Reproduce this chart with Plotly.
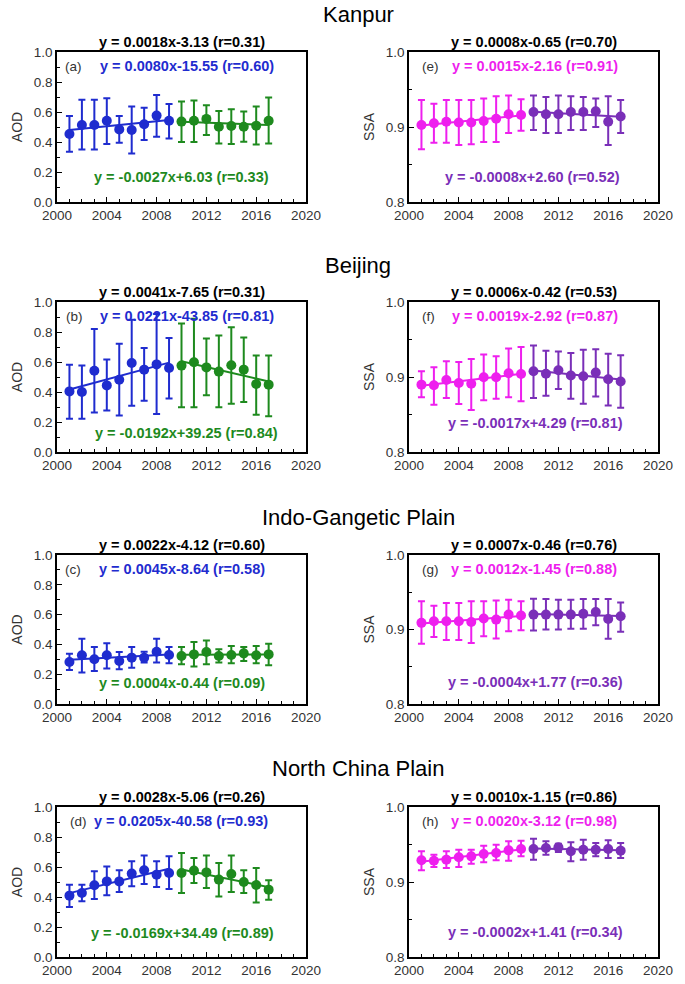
import numpy as np
import plotly.graph_objects as go

W, H = 685, 984

years1 = list(range(2001, 2010))
years2 = list(range(2010, 2018))

region_titles = ["Kanpur", "Beijing", "Indo-Gangetic Plain", "North China Plain"]
panel_labels_aod = ["(a)", "(b)", "(c)", "(d)"]
panel_labels_ssa = ["(e)", "(f)", "(g)", "(h)"]

# ---------------- AOD (mean, upper, lower) ----------------
kan_aod1 = [0.453, 0.513, 0.513, 0.542, 0.484, 0.480, 0.518, 0.576, 0.542]
kan_aod1_up = [0.574, 0.681, 0.681, 0.692, 0.574, 0.636, 0.629, 0.714, 0.654]
kan_aod1_lo = [0.335, 0.350, 0.350, 0.386, 0.395, 0.324, 0.413, 0.435, 0.424]
kan_aod2 = [0.536, 0.542, 0.554, 0.502, 0.507, 0.502, 0.509, 0.542]
kan_aod2_up = [0.670, 0.676, 0.645, 0.607, 0.618, 0.603, 0.636, 0.696]
kan_aod2_lo = [0.400, 0.400, 0.446, 0.390, 0.386, 0.402, 0.384, 0.390]

bei_aod1 = [0.404, 0.400, 0.542, 0.444, 0.482, 0.593, 0.549, 0.584, 0.560]
bei_aod1_up = [0.582, 0.576, 0.820, 0.616, 0.722, 0.882, 0.693, 0.920, 0.760]
bei_aod1_lo = [0.222, 0.222, 0.264, 0.276, 0.244, 0.309, 0.342, 0.253, 0.356]
bei_aod2 = [0.576, 0.598, 0.564, 0.536, 0.578, 0.549, 0.453, 0.449]
bei_aod2_up = [0.856, 0.889, 0.756, 0.776, 0.831, 0.764, 0.644, 0.644]
bei_aod2_lo = [0.298, 0.298, 0.378, 0.298, 0.322, 0.333, 0.249, 0.238]

igp_aod1 = [0.282, 0.327, 0.300, 0.327, 0.289, 0.311, 0.311, 0.351, 0.329]
igp_aod1_up = [0.338, 0.438, 0.382, 0.407, 0.349, 0.382, 0.351, 0.438, 0.382]
igp_aod1_lo = [0.229, 0.211, 0.222, 0.238, 0.233, 0.244, 0.278, 0.278, 0.273]
igp_aod2 = [0.322, 0.333, 0.349, 0.322, 0.329, 0.340, 0.327, 0.333]
igp_aod2_up = [0.382, 0.416, 0.427, 0.367, 0.389, 0.382, 0.389, 0.404]
igp_aod2_lo = [0.267, 0.251, 0.267, 0.278, 0.273, 0.289, 0.273, 0.260]

ncp_aod1 = [0.409, 0.427, 0.478, 0.504, 0.504, 0.556, 0.578, 0.549, 0.560]
ncp_aod1_up = [0.482, 0.482, 0.571, 0.604, 0.578, 0.638, 0.676, 0.638, 0.671]
ncp_aod1_lo = [0.333, 0.371, 0.387, 0.411, 0.433, 0.471, 0.487, 0.467, 0.453]
ncp_aod2 = [0.560, 0.576, 0.564, 0.516, 0.553, 0.500, 0.480, 0.449]
ncp_aod2_up = [0.693, 0.660, 0.676, 0.627, 0.676, 0.578, 0.593, 0.511]
ncp_aod2_lo = [0.427, 0.493, 0.460, 0.404, 0.433, 0.427, 0.364, 0.382]

# ---------------- SSA (mean, upper, lower) ----------------
kan_ssa1 = [0.9027, 0.905, 0.907, 0.906, 0.906, 0.908, 0.911, 0.917, 0.916]
kan_ssa1_up = [0.936, 0.931, 0.936, 0.936, 0.936, 0.938, 0.941, 0.942, 0.937]
kan_ssa1_lo = [0.8705, 0.879, 0.879, 0.876, 0.877, 0.880, 0.880, 0.892, 0.895]
kan_ssa2 = [0.920, 0.917, 0.917, 0.920, 0.920, 0.921, 0.907, 0.914]
kan_ssa2_up = [0.942, 0.940, 0.942, 0.941, 0.940, 0.938, 0.941, 0.936]
kan_ssa2_lo = [0.896, 0.892, 0.892, 0.896, 0.896, 0.900, 0.876, 0.892]

bei_ssa1 = [0.8898, 0.889, 0.896, 0.892, 0.891, 0.8996, 0.8996, 0.905, 0.904]
bei_ssa1_up = [0.9076, 0.913, 0.921, 0.920, 0.924, 0.930, 0.9276, 0.938, 0.940]
bei_ssa1_lo = [0.873, 0.863, 0.872, 0.864, 0.856, 0.869, 0.871, 0.873, 0.8676]
bei_ssa2 = [0.9076, 0.9044, 0.909, 0.902, 0.9009, 0.906, 0.897, 0.894]
bei_ssa2_up = [0.942, 0.935, 0.934, 0.932, 0.9364, 0.937, 0.931, 0.929]
bei_ssa2_lo = [0.872, 0.875, 0.884, 0.871, 0.8644, 0.874, 0.862, 0.859]

igp_ssa1 = [0.9089, 0.911, 0.911, 0.911, 0.910, 0.9147, 0.9133, 0.920, 0.9187]
igp_ssa1_up = [0.9378, 0.932, 0.9356, 0.9356, 0.9378, 0.9378, 0.939, 0.940, 0.9378]
igp_ssa1_lo = [0.881, 0.890, 0.886, 0.886, 0.882, 0.891, 0.888, 0.8978, 0.899]
igp_ssa2 = [0.920, 0.920, 0.920, 0.920, 0.921, 0.9236, 0.914, 0.9178]
igp_ssa2_up = [0.9413, 0.941, 0.940, 0.940, 0.941, 0.941, 0.941, 0.9364]
igp_ssa2_lo = [0.8987, 0.900, 0.900, 0.901, 0.901, 0.9058, 0.8876, 0.8969]

ncp_ssa1 = [0.9289, 0.9284, 0.9298, 0.9329, 0.9342, 0.9373, 0.9387, 0.9422, 0.944]
ncp_ssa1_up = [0.9409, 0.9364, 0.9409, 0.9431, 0.9431, 0.9484, 0.9498, 0.9542, 0.9551]
ncp_ssa1_lo = [0.9156, 0.920, 0.9187, 0.920, 0.9244, 0.9262, 0.9289, 0.9284, 0.9342]
ncp_ssa2 = [0.944, 0.9453, 0.9462, 0.9409, 0.9431, 0.9431, 0.944, 0.9418]
ncp_ssa2_up = [0.9578, 0.9542, 0.9511, 0.9529, 0.9564, 0.952, 0.9556, 0.952]
ncp_ssa2_lo = [0.9298, 0.9364, 0.940, 0.9276, 0.9298, 0.9342, 0.932, 0.932]

# ---------------- equation texts ----------------
aod_eq_all = ["y = 0.0018x-3.13 (r=0.31)", "y = 0.0041x-7.65 (r=0.31)",
              "y = 0.0022x-4.12 (r=0.60)", "y = 0.0028x-5.06 (r=0.26)"]
aod_eq_p1 = ["y = 0.0080x-15.55 (r=0.60)", "y = 0.0221x-43.85 (r=0.81)",
             "y = 0.0045x-8.64 (r=0.58)", "y = 0.0205x-40.58 (r=0.93)"]
aod_eq_p2 = ["y = -0.0027x+6.03 (r=0.33)", "y = -0.0192x+39.25 (r=0.84)",
             "y = 0.0004x-0.44 (r=0.09)", "y = -0.0169x+34.49 (r=0.89)"]
ssa_eq_all = ["y = 0.0008x-0.65 (r=0.70)", "y = 0.0006x-0.42 (r=0.53)",
              "y = 0.0007x-0.46 (r=0.76)", "y = 0.0010x-1.15 (r=0.86)"]
ssa_eq_p1 = ["y = 0.0015x-2.16 (r=0.91)", "y = 0.0019x-2.92 (r=0.87)",
             "y = 0.0012x-1.45 (r=0.88)", "y = 0.0020x-3.12 (r=0.98)"]
ssa_eq_p2 = ["y = -0.0008x+2.60 (r=0.52)", "y = -0.0017x+4.29 (r=0.81)",
             "y = -0.0004x+1.77 (r=0.36)", "y = -0.0002x+1.41 (r=0.34)"]

aod_data = [
    (kan_aod1, kan_aod1_up, kan_aod1_lo, kan_aod2, kan_aod2_up, kan_aod2_lo),
    (bei_aod1, bei_aod1_up, bei_aod1_lo, bei_aod2, bei_aod2_up, bei_aod2_lo),
    (igp_aod1, igp_aod1_up, igp_aod1_lo, igp_aod2, igp_aod2_up, igp_aod2_lo),
    (ncp_aod1, ncp_aod1_up, ncp_aod1_lo, ncp_aod2, ncp_aod2_up, ncp_aod2_lo),
]
ssa_data = [
    (kan_ssa1, kan_ssa1_up, kan_ssa1_lo, kan_ssa2, kan_ssa2_up, kan_ssa2_lo),
    (bei_ssa1, bei_ssa1_up, bei_ssa1_lo, bei_ssa2, bei_ssa2_up, bei_ssa2_lo),
    (igp_ssa1, igp_ssa1_up, igp_ssa1_lo, igp_ssa2, igp_ssa2_up, igp_ssa2_lo),
    (ncp_ssa1, ncp_ssa1_up, ncp_ssa1_lo, ncp_ssa2, ncp_ssa2_up, ncp_ssa2_lo),
]

BLUE = "#1f2ccf"
GREEN = "#1e8a1e"
MAGENTA = "#ee1fee"
PURPLE = "#7a2fb8"
FONT = "Liberation Sans"

# ---------------- layout geometry (pixels) ----------------
LEFT_X = (57, 306)
RIGHT_X = (409, 658)
ROW_TOP = [52, 302, 555, 807]
ROW_BOT = [202, 452, 704, 957]
TITLE_Y = [14, 265, 517, 768]


def fx(p):
    return p / W


def fy(p):
    return 1 - p / H


fig = go.Figure()
layout = {}
annotations = []


def add_series(ax_idx, years, mean, up, lo, color):
    arr_p = [u - m for u, m in zip(up, mean)]
    arr_m = [m - l for m, l in zip(mean, lo)]
    xa = "x" if ax_idx == 1 else f"x{ax_idx}"
    ya = "y" if ax_idx == 1 else f"y{ax_idx}"
    fig.add_trace(go.Scatter(
        x=years, y=mean, mode="markers", xaxis=xa, yaxis=ya,
        marker=dict(color=color, size=10),
        error_y=dict(type="data", symmetric=False, array=arr_p, arrayminus=arr_m,
                     color=color, thickness=2, width=3.5),
        showlegend=False, hoverinfo="x+y"))
    k, b = np.polyfit(years, mean, 1)
    xs = [years[0], years[-1]]
    fig.add_trace(go.Scatter(
        x=xs, y=[k * v + b for v in xs], mode="lines", xaxis=xa, yaxis=ya,
        line=dict(color=color, width=2), showlegend=False, hoverinfo="skip"))


ax = 0
for r in range(4):
    for c in range(2):
        ax += 1
        xd = LEFT_X if c == 0 else RIGHT_X
        key = "" if ax == 1 else str(ax)
        is_aod = (c == 0)
        data = aod_data[r] if is_aod else ssa_data[r]
        col1 = BLUE if is_aod else MAGENTA
        col2 = GREEN if is_aod else PURPLE
        add_series(ax, years1, data[0], data[1], data[2], col1)
        add_series(ax, years2, data[3], data[4], data[5], col2)

        layout["xaxis" + key] = dict(
            domain=[fx(xd[0]), fx(xd[1])], anchor="y" + key, automargin=False,
            range=[2000, 2020], tickvals=[2000, 2004, 2008, 2012, 2016, 2020],
            ticks="inside", ticklen=5, tickwidth=1.2, tickcolor="black",
            minor=dict(dtick=1, tick0=2000, ticks="inside", ticklen=3, tickcolor="black", tickwidth=1),
            showline=True, linecolor="black", linewidth=1.5, mirror=True,
            showgrid=False, zeroline=False,
            tickfont=dict(family=FONT, size=13.5, color="#333333"))
        if is_aod:
            ycfg = dict(range=[0, 1], tickvals=[0, 0.2, 0.4, 0.6, 0.8, 1.0],
                        ticktext=["0.0", "0.2", "0.4", "0.6", "0.8", "1.0"],
                        minor=dict(dtick=0.1, tick0=0, ticks="inside", ticklen=3, tickcolor="black", tickwidth=1))
            ttl = "AOD"
        else:
            ycfg = dict(range=[0.8, 1.0], tickvals=[0.8, 0.9, 1.0],
                        ticktext=["0.8", "0.9", "1.0"],
                        minor=dict(dtick=0.05, tick0=0.8, ticks="inside", ticklen=3, tickcolor="black", tickwidth=1))
            ttl = "SSA"
        layout["yaxis" + key] = dict(
            domain=[fy(ROW_BOT[r]), fy(ROW_TOP[r])], anchor="x" + key, automargin=False,
            ticks="inside", ticklen=5, tickwidth=1.2, tickcolor="black",
            showline=True, linecolor="black", linewidth=1.5, mirror=True,
            showgrid=False, zeroline=False,
            tickfont=dict(family=FONT, size=13.5, color="#333333"),
            title=dict(text=ttl, font=dict(family=FONT, size=14, color="#333333"), standoff=8),
            **ycfg)

        # equations
        cx = (xd[0] + xd[1]) / 2
        eq_all = aod_eq_all[r] if is_aod else ssa_eq_all[r]
        eq1 = aod_eq_p1[r] if is_aod else ssa_eq_p1[r]
        eq2 = aod_eq_p2[r] if is_aod else ssa_eq_p2[r]
        lab = panel_labels_aod[r] if is_aod else panel_labels_ssa[r]
        annotations.append(dict(x=fx(cx), y=fy(ROW_TOP[r] - 10), xref="paper", yref="paper",
                                text="<b>" + eq_all + "</b>", showarrow=False,
                                xanchor="center", yanchor="middle",
                                font=dict(family=FONT, size=14.5, color="black")))
        if is_aod:
            c1 = [187, 187, 182, 181][r]
            c2 = [181, 187, 182, 182][r]
            y2 = [177, 433, 683, 933][r]
            lx = [63, 64, 63, 68][r]
        else:
            c1 = [535, 535, 534, 534][r]
            c2 = [532, 535, 535, 535][r]
            y2 = [177, 423, 682, 932][r]
            lx = 420
        y1 = ROW_TOP[r] + 14
        annotations.append(dict(x=fx(c1), y=fy(y1), xref="paper", yref="paper",
                                text="<b>" + eq1 + "</b>", showarrow=False,
                                xanchor="center", yanchor="middle",
                                font=dict(family=FONT, size=14.5, color=col1)))
        annotations.append(dict(x=fx(c2), y=fy(y2), xref="paper", yref="paper",
                                text="<b>" + eq2 + "</b>", showarrow=False,
                                xanchor="center", yanchor="middle",
                                font=dict(family=FONT, size=14.5, color=col2)))
        annotations.append(dict(x=fx(lx), y=fy(y1), xref="paper", yref="paper",
                                text=lab, showarrow=False,
                                xanchor="left", yanchor="middle",
                                font=dict(family=FONT, size=13.5, color="#333333")))

for r in range(4):
    annotations.append(dict(x=fx(358), y=fy(TITLE_Y[r]), xref="paper", yref="paper",
                            text=region_titles[r], showarrow=False,
                            xanchor="center", yanchor="middle",
                            font=dict(family=FONT, size=22, color="black")))

fig.update_layout(
    width=W, height=H, margin=dict(l=0, r=0, t=0, b=0, autoexpand=False),
    paper_bgcolor="white", plot_bgcolor="white",
    annotations=annotations, **layout)

fig.write_html("out.html", config={"displayModeBar": False},
               post_script="document.body.style.margin='0';document.body.style.overflow='hidden';")
